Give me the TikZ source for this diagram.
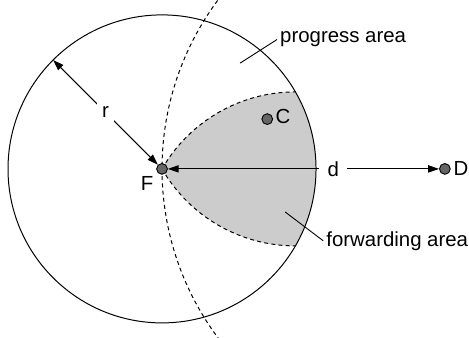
\documentclass[tikz,border=0pt]{standalone}
\usepackage{fontspec}
\setmainfont{Liberation Sans}
\usetikzlibrary{positioning,arrows.meta}

\begin{document}
\begin{tikzpicture}[
  font=\fontsize{11.3}{13.5}\selectfont,
  line width=0.55pt,
  dot/.style={circle, draw=black, fill=black!60, line width=0.5pt, minimum size=0.21cm, inner sep=0pt},
  txt/.style={inner sep=1.5pt},
  lbl/.style={fill=white, inner sep=3pt},
  dsh/.style={dash pattern=on 2.2pt off 1.8pt},
  arr/.style={{Triangle[length=6pt,width=4pt]}-{Triangle[length=6pt,width=4pt]}},
  lead/.style={line width=0.5pt},
]
\useasboundingbox (-3.156,-3.29) rectangle (5.98,3.29);
% ================= AREAS =================
% forwarding area (lens)
\fill[black!20] (0,0) arc[start angle=150,end angle=90,radius=3]
  arc[start angle=30,end angle=-30,radius=3]
  arc[start angle=270,end angle=210,radius=3] -- cycle;
\draw[dsh] (0,0) arc[start angle=150,end angle=90,radius=3];
\draw[dsh] (0,0) arc[start angle=210,end angle=270,radius=3];
% radio range of F
\draw (0,0) circle[radius=3];
% progress boundary, around D
\begin{scope}
\clip (-3.156,-3.29) rectangle (5.98,3.29);
\draw[dsh] (5.51,0) ++(142:5.51) arc[start angle=142,end angle=218,radius=5.51];
\end{scope}
% ================= NODES =================
\node[dot] (F) at (0,0) {};
\node[dot] (C) at (2.05,0.97) {};
\node[dot] (D) at (5.51,0) {};
\node[txt, anchor=west] (Clbl) at (2.15,1.03) {C};
\node[txt, anchor=west] (Dlbl) at (5.62,0) {D};
\node[txt] (Flbl) at (-0.29,-0.29) {F};
% ================= DISTANCES =================
\coordinate (rim) at (135:3);
\draw[arr] (rim) -- node[lbl]{r} (F);
\draw[arr] (F) -- node[lbl, inner xsep=4.5pt, pos=0.61]{d} (D);
% ================= LABELS =================
\node[txt, anchor=west] (pa) at (2.24,2.52) {progress area};
\coordinate (pa0) at (1.52,2.06);
\draw[lead] (pa0) -- (pa.west);
\node[txt, anchor=west] (fa) at (3.14,-1.40) {forwarding area};
\coordinate (fa0) at (2.40,-0.84);
\draw[lead] (fa0) -- (fa.west);
\end{tikzpicture}
\end{document}
